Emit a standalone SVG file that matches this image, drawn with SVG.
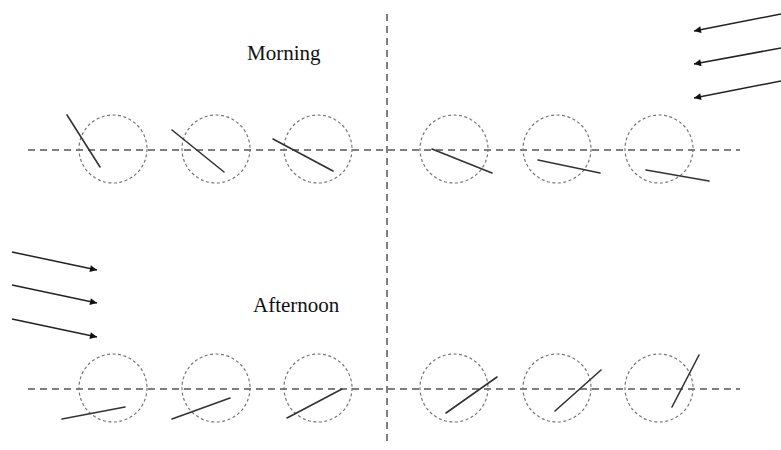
<svg xmlns="http://www.w3.org/2000/svg" width="781" height="450" viewBox="0 0 781 450">
<style>
.axis{stroke:#555;stroke-width:1.5;stroke-dasharray:7,5;fill:none}
.c{fill:none;stroke:#777;stroke-width:1.2;stroke-dasharray:3,2.5}
.n{stroke:#333;stroke-width:1.6;stroke-linecap:round}
.ar{stroke:#222;stroke-width:1.5;marker-end:url(#ah)}
.t{font-family:"Liberation Serif",serif;font-size:21px;fill:#111}
</style>
<defs>
<marker id="ah" viewBox="0 0 10 10" refX="10" refY="5" markerWidth="8" markerHeight="7" orient="auto" markerUnits="userSpaceOnUse"><path d="M0,0 L10,5 L0,10 z" fill="#111"/></marker>
</defs>
<rect width="781" height="450" fill="#fff"/>
<g id="axes">
<line class="axis" x1="28" y1="150" x2="740" y2="150"/>
<line class="axis" x1="28" y1="389" x2="740" y2="389"/>
<line class="axis" x1="387" y1="14" x2="387" y2="445"/>
</g>
<g id="labels">
<text class="t" x="247" y="60">Morning</text>
<text class="t" x="253" y="312">Afternoon</text>
</g>
<g id="morning">
<g id="m1"><circle class="c" cx="113" cy="149" r="34"/><line class="n" x1="67" y1="115" x2="100" y2="167"/></g>
<g id="m2"><circle class="c" cx="216" cy="149" r="34"/><line class="n" x1="172" y1="130" x2="224" y2="172"/></g>
<g id="m3"><circle class="c" cx="318" cy="149" r="34"/><line class="n" x1="273" y1="139" x2="333" y2="171"/></g>
<g id="m4"><circle class="c" cx="454" cy="149" r="34"/><line class="n" x1="432" y1="149" x2="492" y2="173"/></g>
<g id="m5"><circle class="c" cx="557" cy="149" r="34"/><line class="n" x1="538" y1="160" x2="600" y2="173"/></g>
<g id="m6"><circle class="c" cx="659" cy="149" r="34"/><line class="n" x1="646" y1="170" x2="709" y2="181"/></g>
</g>
<g id="afternoon">
<g id="a1"><circle class="c" cx="113" cy="388" r="34"/><line class="n" x1="62" y1="419" x2="125" y2="407"/></g>
<g id="a2"><circle class="c" cx="216" cy="388" r="34"/><line class="n" x1="172" y1="419" x2="230" y2="398"/></g>
<g id="a3"><circle class="c" cx="318" cy="388" r="34"/><line class="n" x1="287" y1="418" x2="342" y2="389"/></g>
<g id="a4"><circle class="c" cx="454" cy="388" r="34"/><line class="n" x1="446" y1="413" x2="497" y2="377"/></g>
<g id="a5"><circle class="c" cx="557" cy="388" r="34"/><line class="n" x1="555" y1="411" x2="601" y2="370"/></g>
<g id="a6"><circle class="c" cx="659" cy="388" r="34"/><line class="n" x1="672" y1="407" x2="699" y2="355"/></g>
</g>
<g id="connectors">
<line class="ar" x1="781" y1="14" x2="694" y2="31"/>
<line class="ar" x1="781" y1="48" x2="694" y2="64"/>
<line class="ar" x1="781" y1="81" x2="694" y2="98"/>
<line class="ar" x1="12" y1="252" x2="97" y2="270"/>
<line class="ar" x1="12" y1="285" x2="97" y2="303"/>
<line class="ar" x1="12" y1="319" x2="97" y2="337"/>
</g>
</svg>
